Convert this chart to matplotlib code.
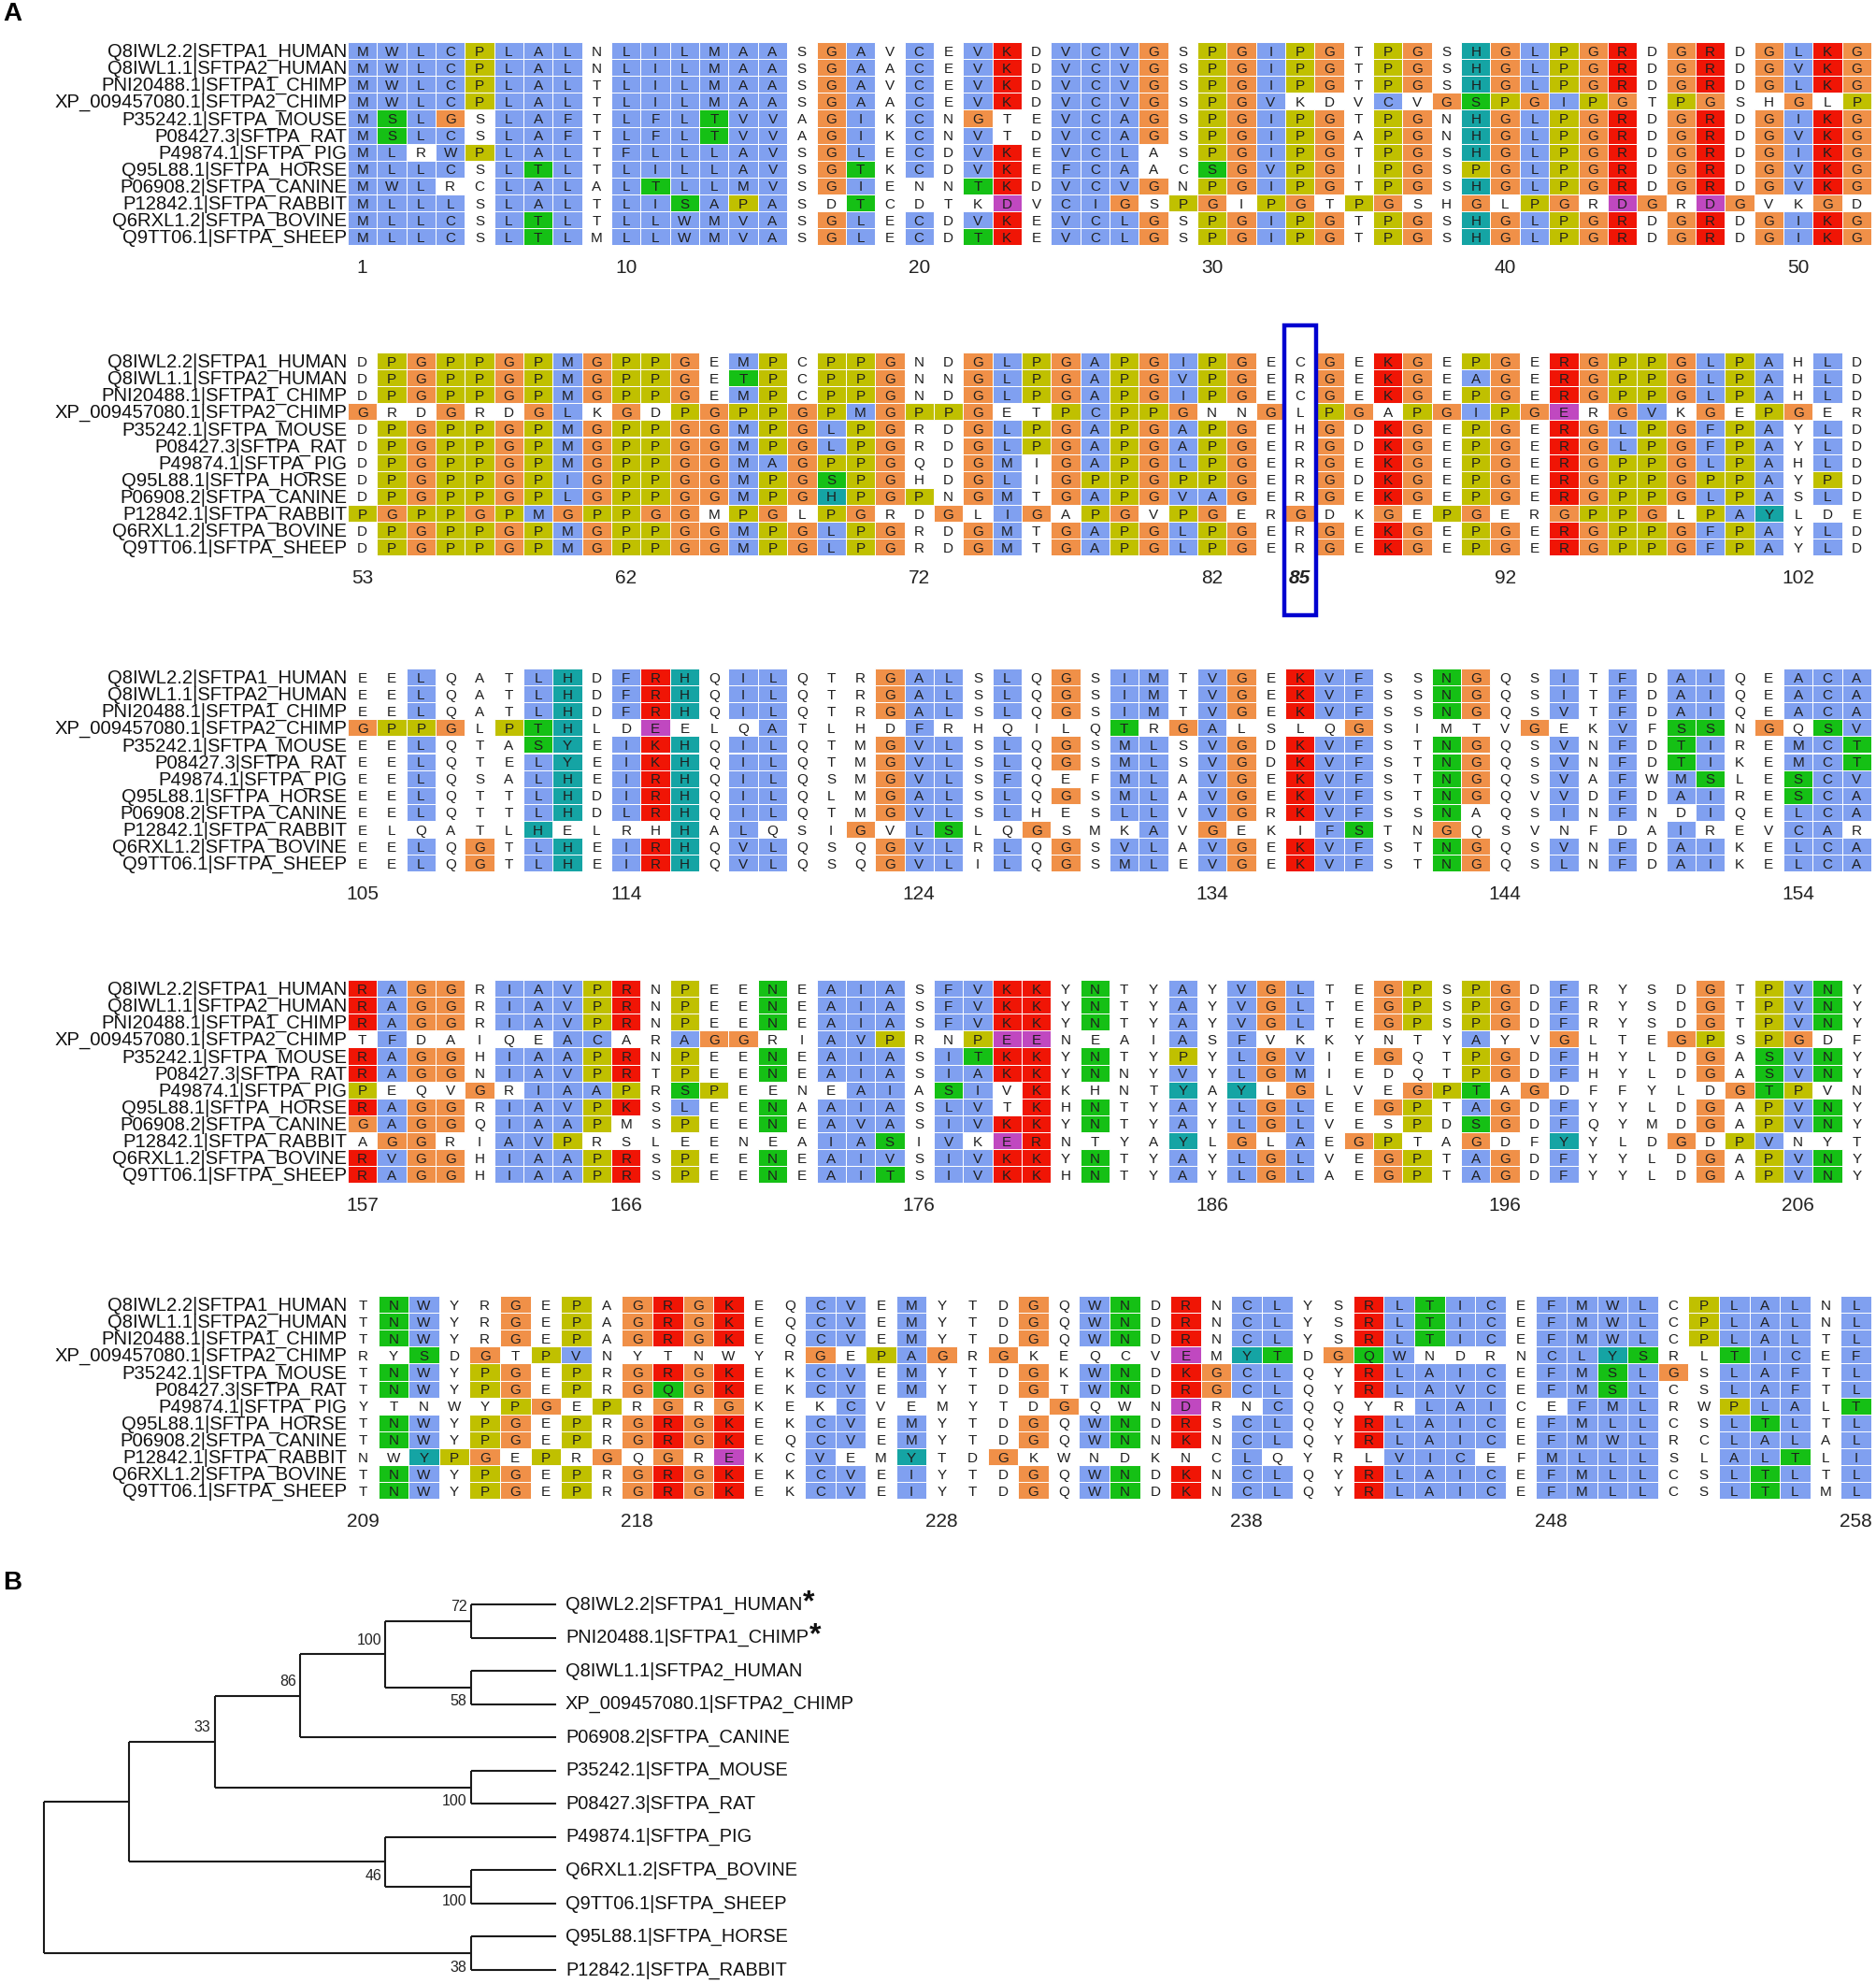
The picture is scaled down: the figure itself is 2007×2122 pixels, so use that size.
import matplotlib.pyplot as plt
from matplotlib.patches import Rectangle

plt.rcParams['font.family'] = ['Liberation Sans', 'DejaVu Sans']

# ---------------- data ----------------
NAMES = [
    "Q8IWL2.2|SFTPA1_HUMAN",
    "Q8IWL1.1|SFTPA2_HUMAN",
    "PNI20488.1|SFTPA1_CHIMP",
    "XP_009457080.1|SFTPA2_CHIMP",
    "P35242.1|SFTPA_MOUSE",
    "P08427.3|SFTPA_RAT",
    "P49874.1|SFTPA_PIG",
    "Q95L88.1|SFTPA_HORSE",
    "P06908.2|SFTPA_CANINE",
    "P12842.1|SFTPA_RABBIT",
    "Q6RXL1.2|SFTPA_BOVINE",
    "Q9TT06.1|SFTPA_SHEEP",
]

# one string per sequence, written block by block (52, 52, 52, 52, 50 columns)
SEQUENCES = [
    "MWLCPLALNLILMAASGAVCEVKDVCVGSPGIPGTPGSHGLPGRDGRDGLKG"
    "DPGPPGPMGPPGEMPCPPGNDGLPGAPGIPGECGEKGEPGERGPPGLPAHLD"
    "EELQATLHDFRHQILQTRGALSLQGSIMTVGEKVFSSNGQSITFDAIQEACA"
    "RAGGRIAVPRNPEENEAIASFVKKYNTYAYVGLTEGPSPGDFRYSDGTPVNY"
    "TNWYRGEPAGRGKEQCVEMYTDGQWNDRNCLYSRLTICEFMWLCPLALNL",

    "MWLCPLALNLILMAASGAACEVKDVCVGSPGIPGTPGSHGLPGRDGRDGVKG"
    "DPGPPGPMGPPGETPCPPGNNGLPGAPGVPGERGEKGEAGERGPPGLPAHLD"
    "EELQATLHDFRHQILQTRGALSLQGSIMTVGEKVFSSNGQSITFDAIQEACA"
    "RAGGRIAVPRNPEENEAIASFVKKYNTYAYVGLTEGPSPGDFRYSDGTPVNY"
    "TNWYRGEPAGRGKEQCVEMYTDGQWNDRNCLYSRLTICEFMWLCPLALNL",

    "MWLCPLALTLILMAASGAVCEVKDVCVGSPGIPGTPGSHGLPGRDGRDGLKG"
    "DPGPPGPMGPPGEMPCPPGNDGLPGAPGIPGECGEKGEPGERGPPGLPAHLD"
    "EELQATLHDFRHQILQTRGALSLQGSIMTVGEKVFSSNGQSVTFDAIQEACA"
    "RAGGRIAVPRNPEENEAIASFVKKYNTYAYVGLTEGPSPGDFRYSDGTPVNY"
    "TNWYRGEPAGRGKEQCVEMYTDGQWNDRNCLYSRLTICEFMWLCPLALTL",

    "MWLCPLALTLILMAASGAACEVKDVCVGSPGVKDVCVGSPGIPGTPGSHGLP"
    "GRDGRDGLKGDPGPPGPMGPPGETPCPPGNNGLPGAPGIPGERGVKGEPGER"
    "GPPGLPTHLDEELQATLHDFRHQILQTRGALSLQGSIMTVGEKVFSSNGQSV"
    "TFDAIQEACARAGGRIAVPRNPEENEAIASFVKKYNTYAYVGLTEGPSPGDF"
    "RYSDGTPVNYTNWYRGEPAGRGKEQCVEMYTDGQWNDRNCLYSRLTICEF",

    "MSLGSLAFTLFLTVVAGIKCNGTEVCAGSPGIPGTPGNHGLPGRDGRDGIKG"
    "DPGPPGPMGPPGGMPGLPGRDGLPGAPGAPGEHGDKGEPGERGLPGFPAYLD"
    "EELQTASYEIKHQILQTMGVLSLQGSMLSVGDKVFSTNGQSVNFDTIREMCT"
    "RAGGHIAAPRNPEENEAIASITKKYNTYPYLGVIEGQTPGDFHYLDGASVNY"
    "TNWYPGEPRGRGKEKCVEMYTDGKWNDKGCLQYRLAICEFMSLGSLAFTL",

    "MSLCSLAFTLFLTVVAGIKCNVTDVCAGSPGIPGAPGNHGLPGRDGRDGVKG"
    "DPGPPGPMGPPGGMPGLPGRDGLPGAPGAPGERGDKGEPGERGLPGFPAYLD"
    "EELQTELYEIKHQILQTMGVLSLQGSMLSVGDKVFSTNGQSVNFDTIKEMCT"
    "RAGGNIAVPRTPEENEAIASIAKKYNNYVYLGMIEDQTPGDFHYLDGASVNY"
    "TNWYPGEPRGQGKEKCVEMYTDGTWNDRGCLQYRLAVCEFMSLCSLAFTL",

    "MLRWPLALTFLLLAVSGLECDVKEVCLASPGIPGTPGSHGLPGRDGRDGIKG"
    "DPGPPGPMGPPGGMAGPPGQDGMIGAPGLPGERGEKGEPGERGPPGLPAHLD"
    "EELQSALHEIRHQILQSMGVLSFQEFMLAVGEKVFSTNGQSVAFWMSLESCV"
    "PEQVGRIAAPRSPEENEAIASIVKKHNTYAYLGLVEGPTAGDFFYLDGTPVN"
    "YTNWYPGEPRGRGKEKCVEMYTDGQWNDRNCQQYRLAICEFMLRWPLALT",

    "MLLCSLTLTLILLAVSGTKCDVKEFCAACSGVPGIPGSPGLPGRDGRDGVKG"
    "DPGPPGPIGPPGGMPGSPGHDGLIGPPGPPGERGDKGEPGERGPPGPPAYPD"
    "EELQTTLHDIRHQILQLMGALSLQGSMLAVGEKVFSTNGQVVDFDAIRESCA"
    "RAGGRIAVPKSLEENAAIASLVTKHNTYAYLGLEEGPTAGDFYYLDGAPVNY"
    "TNWYPGEPRGRGKEKCVEMYTDGQWNDRSCLQYRLAICEFMLLCSLTLTL",

    "MWLRCLALALTLLMVSGIENNTKDVCVGNPGIPGTPGSHGLPGRDGRDGVKG"
    "DPGPPGPLGPPGGMPGHPGPNGMTGAPGVAGERGEKGEPGERGPPGLPASLD"
    "EELQTTLHDLRHQILQTMGVLSLHESLLVVGRKVFSSNAQSINFNDIQELCA"
    "GAGGQIAAPMSPEENEAVASIVKKYNTYAYLGLVESPDSGDFQYMDGAPVNY"
    "TNWYPGEPRGRGKEQCVEMYTDGQWNNKNCLQYRLAICEFMWLRCLALAL",

    "MLLLSLALTLISAPASDTCDTKDVCIGSPGIPGTPGSHGLPGRDGRDGVKGD"
    "PGPPGPMGPPGGMPGLPGRDGLIGAPGVPGERGDKGEPGERGPPGLPAYLDE"
    "ELQATLHELRHHALQSIGVLSLQGSMKAVGEKIFSTNGQSVNFDAIREVCAR"
    "AGGRIAVPRSLEENEAIASIVKERNTYAYLGLAEGPTAGDFYYLDGDPVNYT"
    "NWYPGEPRGQGREKCVEMYTDGKWNDKNCLQYRLVICEFMLLLSLALTLI",

    "MLLCSLTLTLLWMVASGLECDVKEVCLGSPGIPGTPGSHGLPGRDGRDGIKG"
    "DPGPPGPMGPPGGMPGLPGRDGMTGAPGLPGERGEKGEPGERGPPGFPAYLD"
    "EELQGTLHEIRHQVLQSQGVLRLQGSVLAVGEKVFSTNGQSVNFDAIKELCA"
    "RVGGHIAAPRSPEENEAIVSIVKKYNTYAYLGLVEGPTAGDFYYLDGAPVNY"
    "TNWYPGEPRGRGKEKCVEIYTDGQWNDKNCLQYRLAICEFMLLCSLTLTL",

    "MLLCSLTLMLLWMVASGLECDTKEVCLGSPGIPGTPGSHGLPGRDGRDGIKG"
    "DPGPPGPMGPPGGMPGLPGRDGMTGAPGLPGERGEKGEPGERGPPGFPAYLD"
    "EELQGTLHEIRHQVLQSQGVLILQGSMLEVGEKVFSTNGQSLNFDAIKELCA"
    "RAGGHIAAPRSPEENEAITSIVKKHNTYAYLGLAEGPTAGDFYYLDGAPVNY"
    "TNWYPGEPRGRGKEKCVEIYTDGQWNDKNCLQYRLAICEFMLLCSLTLML",
]

BLOCK_STARTS = [1, 53, 105, 157, 209]
BLOCK_ENDS = [52, 104, 156, 208, 258]
POSITION_TICKS = [
    [1, 10, 20, 30, 40, 50],
    [53, 62, 72, 82, 85, 92, 102],
    [105, 114, 124, 134, 144, 154],
    [157, 166, 176, 186, 196, 206],
    [209, 218, 228, 238, 248, 258],
]
HIGHLIGHT_POS = 85

TREE = ("((((((Q8IWL2.2|SFTPA1_HUMAN,PNI20488.1|SFTPA1_CHIMP)72,"
        "(Q8IWL1.1|SFTPA2_HUMAN,XP_009457080.1|SFTPA2_CHIMP)58)100,"
        "P06908.2|SFTPA_CANINE)86,(P35242.1|SFTPA_MOUSE,P08427.3|SFTPA_RAT)100)33,"
        "(P49874.1|SFTPA_PIG,(Q6RXL1.2|SFTPA_BOVINE,Q9TT06.1|SFTPA_SHEEP)100)46),"
        "(Q95L88.1|SFTPA_HORSE,P12842.1|SFTPA_RABBIT)38);")
STARRED = ["Q8IWL2.2|SFTPA1_HUMAN", "PNI20488.1|SFTPA1_CHIMP"]

# ---------------- Clustal-style colouring ----------------
COLOURS = {
    "blue": "#80a0f0", "red": "#f01505", "magenta": "#c048c0",
    "green": "#15c015", "orange": "#f09048", "yellow": "#c0c000",
    "cyan": "#15a4a4",
}
HYDROPHOBIC = set("WLVIMAFCHP")


def residue_colour(res, column):
    n = len(column)
    f_hp = sum(c in HYDROPHOBIC for c in column) / n
    f_kr = sum(c in "KR" for c in column) / n
    f_n = column.count("N") / n
    if res == "G":
        return COLOURS["orange"]
    if res == "P":
        return COLOURS["yellow"]
    if res in "AILMFWVC" and f_hp > 0.6:
        return COLOURS["blue"]
    if res in "KR" and f_kr > 0.6:
        return COLOURS["red"]
    if res in "DE" and f_kr > 0.6:
        return COLOURS["magenta"]
    if res == "N" and f_n > 0.5:
        return COLOURS["green"]
    if res == "Q" and f_kr > 0.6:
        return COLOURS["green"]
    if res in "ST" and f_hp > 0.6:
        return COLOURS["green"]
    if res in "HY" and f_hp > 0.6:
        return COLOURS["cyan"]
    return None


# ---------------- figure ----------------
W, H = 2008, 2122
fig = plt.figure(figsize=(W / 100, H / 100), dpi=100)


def px_axes(x0, y0, x1, y1):
    ax = fig.add_axes([x0 / W, 1 - y1 / H, (x1 - x0) / W, (y1 - y0) / H])
    ax.axis("off")
    return ax


fig.text(3 / W, 1 - 2 / H, "A", ha="left", va="top", fontsize=20, weight="bold")
fig.text(3 / W, 1 - 1680 / H, "B", ha="left", va="top", fontsize=20, weight="bold")

ROW_H = 18.1
BLOCK_TOPS = [45, 377, 715, 1048, 1386]
nrows = len(SEQUENCES)

for b, (start, end) in enumerate(zip(BLOCK_STARTS, BLOCK_ENDS)):
    ncol = end - start + 1
    top = BLOCK_TOPS[b]
    ax = px_axes(372, top, 2002, top + nrows * ROW_H)
    ax.set_xlim(-0.5, ncol - 0.5)
    ax.set_ylim(nrows - 0.5, -0.5)
    for j in range(ncol):
        column = [s[start - 1 + j] for s in SEQUENCES]
        for r, res in enumerate(column):
            c = residue_colour(res, column)
            if c:
                ax.add_patch(Rectangle((j - 0.5, r - 0.5), 1, 1, facecolor=c,
                                       edgecolor="white", lw=0.7))
            ax.text(j, r + 0.31, res, ha="center", va="baseline",
                    fontsize=11, color="#1e1e1e")
    for r, name in enumerate(NAMES):
        ax.text(-0.52, r + 0.38, name, ha="right", va="baseline",
                fontsize=14.6, color="#111111", clip_on=False)
    for p in POSITION_TICKS[b]:
        bold = p == HIGHLIGHT_POS
        ax.text(p - start, 12.85, str(p), ha="center", va="center",
                fontsize=15, color="#222222", clip_on=False,
                weight="bold" if bold else "normal",
                style="italic" if bold else "normal")
    if start <= HIGHLIGHT_POS <= end:
        j = HIGHLIGHT_POS - start
        ax.add_patch(Rectangle((j - 0.55, -2.1), 1.1, 17.1, fill=False,
                               edgecolor="#0000d0", lw=3.2, clip_on=False))


# ---------------- tree ----------------
def parse_newick(s):
    pos = 0

    def label():
        nonlocal pos
        st = pos
        while s[pos] not in ",();":
            pos += 1
        return s[st:pos]

    def node():
        nonlocal pos
        if s[pos] == "(":
            pos += 1
            kids = [node()]
            while s[pos] == ",":
                pos += 1
                kids.append(node())
            pos += 1
            return {"kids": kids, "support": label()}
        return {"name": label()}

    return node()


root = parse_newick(TREE)
leaves = []


def layout(nd):
    if "kids" not in nd:
        nd["y"] = len(leaves)
        nd["h"] = 0
        leaves.append(nd)
        return
    for k in nd["kids"]:
        layout(k)
    nd["h"] = 1 + max(k["h"] for k in nd["kids"])
    nd["y"] = (nd["kids"][0]["y"] + nd["kids"][-1]["y"]) / 2


layout(root)
depth = root["h"]

tax = px_axes(47, 1716, 595, 2107)
tax.set_xlim(0, depth)
tax.set_ylim(len(leaves) - 1, 0)
LW = 1.5
LC = "#1a1a1a"


def draw(nd, is_first):
    x = depth - nd["h"]
    if "kids" not in nd:
        t = tax.annotate(nd["name"], (x, nd["y"]), xytext=(10, 0),
                         textcoords="offset pixels", ha="left", va="center",
                         fontsize=14.4, color="#111111", annotation_clip=False)
        if nd["name"] in STARRED:
            tax.annotate("*", xy=(1, 0.5), xycoords=t, xytext=(1, 2),
                         textcoords="offset pixels", ha="left", va="center",
                         fontsize=23, weight="bold", color="#111111")
        return
    ys = [k["y"] for k in nd["kids"]]
    tax.plot([x, x], [min(ys), max(ys)], color=LC, lw=LW, clip_on=False,
             solid_capstyle="butt")
    for i, k in enumerate(nd["kids"]):
        kx = depth - k["h"]
        tax.plot([x, kx], [k["y"], k["y"]], color=LC, lw=LW, clip_on=False,
                 solid_capstyle="butt")
        draw(k, i == 0)
    if nd is not root and nd["support"]:
        dy = 15 if is_first else -15
        tax.annotate(nd["support"], (x, nd["y"]), xytext=(-4, dy),
                     textcoords="offset pixels", ha="right", va="center",
                     fontsize=11.5, color="#222222", annotation_clip=False)


draw(root, True)

fig.savefig("out.png", dpi=100, facecolor="white")
